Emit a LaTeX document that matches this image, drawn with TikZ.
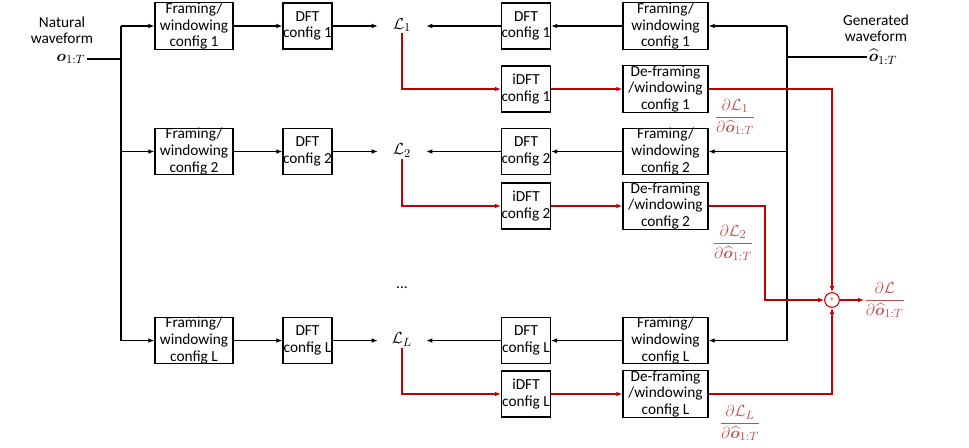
\documentclass[tikz,border=0pt]{standalone}
\usepackage{amsmath,amssymb,bm}
\usepackage{fontspec}
\setmainfont{Carlito}
\usetikzlibrary{arrows.meta,calc}
\definecolor{gline}{RGB}{192,0,0}
\definecolor{glab}{RGB}{192,80,77}
\begin{document}
\begin{tikzpicture}[x=0.75pt,y=-0.75pt,
  every node/.style={font=\fontsize{11.5}{12.4}\selectfont},
  blk/.style={draw,line width=0.9pt,align=center,inner sep=0pt,minimum height=34.5pt},
  fbox/.style={blk,minimum width=58.5pt},
  dbox/.style={blk,minimum width=36.75pt},
  rbox/.style={blk,minimum width=63.75pt},
  lnode/.style={inner xsep=0pt,inner ysep=1pt,minimum width=36pt,font=\fontsize{13}{14}\selectfont},
  arr/.style={-{Latex[length=4.5pt,width=3.5pt]}},
  wire/.style={line width=0.85pt},
  rwire/.style={line width=0.8pt,draw=gline},
  glabel/.style={text=glab,font=\fontsize{12.5}{14}\selectfont}
]
\useasboundingbox (0,0) rectangle (969,447);

% left input
\node[align=center] (nat) at (62,30) {Natural\\waveform};
\node[inner sep=1pt,font=\fontsize{13}{14}\selectfont] (o) at (71,59) {$\bm{o}_{1:T}$};
\coordinate (blt) at (121,26);
\coordinate (blb) at (121,340.5);
\coordinate (bl2) at (121,151.5);

% right input
\node[align=center] (gen) at (876,28) {Generated\\waveform};
\node[inner sep=1pt,font=\fontsize{13}{14}\selectfont] (oh) at (883,57) {$\widehat{\bm{o}}_{1:T}$};
\coordinate (brt) at (787,26);
\coordinate (brb) at (787,340.5);
\coordinate (br2) at (787,151.5);

% row 1
\node[fbox] (fl1) at (194,26) {Framing/\\windowing\\config 1};
\node[dbox] (dl1) at (307.5,26) {DFT\\config 1};
\node[lnode] (L1) at (402,25) {$\mathcal{L}_1$};
\node[dbox] (dr1) at (526,26) {DFT\\config 1};
\node[rbox] (fr1) at (665.5,26) {Framing/\\windowing\\config 1};
\node[dbox] (id1) at (526,89) {iDFT\\config 1};
\node[rbox] (df1) at (665.5,89) {De-framing\\/windowing\\config 1};

% row 2
\node[fbox] (fl2) at (194,151.5) {Framing/\\windowing\\config 2};
\node[dbox] (dl2) at (307.5,151.5) {DFT\\config 2};
\node[lnode] (L2) at (402,150.5) {$\mathcal{L}_2$};
\node[dbox] (dr2) at (526,151.5) {DFT\\config 2};
\node[rbox] (fr2) at (665.5,151.5) {Framing/\\windowing\\config 2};
\node[dbox] (id2) at (526,206) {iDFT\\config 2};
\node[rbox] (df2) at (665.5,206) {De-framing\\/windowing\\config 2};

\node (dots) at (402,288) {...};

% row L
\node[fbox] (flL) at (194,340.5) {Framing/\\windowing\\config L};
\node[dbox] (dlL) at (307.5,340.5) {DFT\\config L};
\node[lnode] (LL) at (402,339.5) {$\mathcal{L}_L$};
\node[dbox] (drL) at (526,340.5) {DFT\\config L};
\node[rbox] (frL) at (665.5,340.5) {Framing/\\windowing\\config L};
\node[dbox] (idL) at (526,394) {iDFT\\config L};
\node[rbox] (dfL) at (665.5,394) {De-framing\\/windowing\\config L};

% sum
\node[circle,draw=gline,line width=0.8pt,minimum size=11pt,inner sep=0pt,text=gline,font=\fontsize{5}{5}\selectfont] (plus) at (832,300) {+};
\coordinate (k2) at (765,206);

% gradient labels
\node[glabel] (g1) at (735,117) {$\dfrac{\partial\mathcal{L}_1}{\partial\widehat{\bm{o}}_{1:T}}$};
\node[glabel] (g2) at (733,243) {$\dfrac{\partial\mathcal{L}_2}{\partial\widehat{\bm{o}}_{1:T}}$};
\node[glabel] (gL) at (740,423) {$\dfrac{\partial\mathcal{L}_L}{\partial\widehat{\bm{o}}_{1:T}}$};
\node[glabel,anchor=west,inner sep=0pt] (gs) at (864,300) {$\dfrac{\partial\mathcal{L}}{\partial\widehat{\bm{o}}_{1:T}}$};

% black wires left
\draw[wire] (o.east) -- (o.east -| blt);
\draw[wire] (blt) -- (blb);
\draw[wire,arr] (blt) -- (fl1.west);
\draw[wire,arr] (bl2) -- (fl2.west);
\draw[wire,arr] (blb) -- (flL.west);
\draw[wire,arr] (fl1.east) -- (dl1.west);
\draw[wire,arr] (fl2.east) -- (dl2.west);
\draw[wire,arr] (flL.east) -- (dlL.west);
\draw[wire,arr] (dl1.east) -- (dl1.east -| L1.west);
\draw[wire,arr] (dl2.east) -- (dl2.east -| L2.west);
\draw[wire,arr] (dlL.east) -- (dlL.east -| LL.west);
\draw[wire,arr] (dr1.west) -- (dr1.west -| L1.east);
\draw[wire,arr] (dr2.west) -- (dr2.west -| L2.east);
\draw[wire,arr] (drL.west) -- (drL.west -| LL.east);
\draw[wire,arr] (fr1.west) -- (dr1.east);
\draw[wire,arr] (fr2.west) -- (dr2.east);
\draw[wire,arr] (frL.west) -- (drL.east);

% black wires right
\draw[wire] (oh.west) -- (oh.west -| brt);
\draw[wire] (brt) -- (brb);
\draw[wire,arr] (brt) -- (fr1.east);
\draw[wire,arr] (br2) -- (fr2.east);
\draw[wire,arr] (brb) -- (frL.east);

% red wires
\draw[rwire,arr] (L1.south) |- (id1.west);
\draw[rwire,arr] (L2.south) |- (id2.west);
\draw[rwire,arr] (LL.south) |- (idL.west);
\draw[rwire,arr] (id1.east) -- (df1.west);
\draw[rwire,arr] (id2.east) -- (df2.west);
\draw[rwire,arr] (idL.east) -- (dfL.west);
\draw[rwire,arr] (df1.east) -| (plus.north);
\draw[rwire,arr] (df2.east) -- (k2) |- (plus.west);
\draw[rwire,arr] (dfL.east) -| (plus.south);
\draw[rwire,arr] (plus.east) -- (gs.west);
\end{tikzpicture}
\end{document}
